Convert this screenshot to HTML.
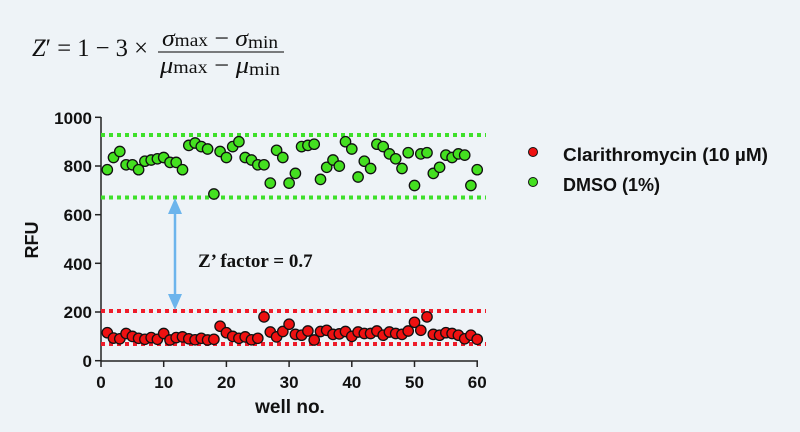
<!DOCTYPE html>
<html><head><meta charset="utf-8"><style>
html,body{margin:0;padding:0;background:#eef3f7;}
svg{display:block;}
</style></head><body>
<svg width="800" height="432" xmlns="http://www.w3.org/2000/svg" font-family="Liberation Sans, sans-serif">
<defs>
<marker id="mr" markerUnits="userSpaceOnUse" markerWidth="14" markerHeight="14" refX="7" refY="7" overflow="visible"><circle cx="7" cy="7" r="5.2" fill="#ee1111" stroke="#111" stroke-width="1.3"/></marker>
<marker id="mg" markerUnits="userSpaceOnUse" markerWidth="14" markerHeight="14" refX="7" refY="7" overflow="visible"><circle cx="7" cy="7" r="5.2" fill="#44e020" stroke="#111" stroke-width="1.3"/></marker>
</defs>
<rect width="800" height="432" fill="#eef3f7"/>
<g font-family="Liberation Serif, serif" fill="#111">
<text x="32" y="56" font-size="25" textLength="116" lengthAdjust="spacingAndGlyphs"><tspan font-style="italic">Z</tspan>′ = 1 − 3 ×</text>
<text x="162" y="46" font-size="24" textLength="116" lengthAdjust="spacingAndGlyphs"><tspan font-style="italic">σ</tspan><tspan font-size="18">max</tspan> − <tspan font-style="italic">σ</tspan><tspan font-size="18" dy="2">min</tspan></text>
<line x1="158" y1="52" x2="284" y2="52" stroke="#333" stroke-width="1.3"/>
<text x="160" y="73" font-size="24" textLength="120" lengthAdjust="spacingAndGlyphs"><tspan font-style="italic">μ</tspan><tspan font-size="18">max</tspan> − <tspan font-style="italic">μ</tspan><tspan font-size="18" dy="2">min</tspan></text>
</g>
<g stroke="#222" stroke-width="1.5" fill="none">
<line x1="101" y1="117" x2="101" y2="361"/>
<line x1="101" y1="361" x2="478" y2="361"/>
<line x1="95" y1="117.3" x2="101" y2="117.3"/>
<line x1="95" y1="166" x2="101" y2="166"/>
<line x1="95" y1="214.7" x2="101" y2="214.7"/>
<line x1="95" y1="263.3" x2="101" y2="263.3"/>
<line x1="95" y1="312" x2="101" y2="312"/>
<line x1="95" y1="360.7" x2="101" y2="360.7"/>
<line x1="101" y1="361" x2="101" y2="367"/>
<line x1="163.7" y1="361" x2="163.7" y2="367"/>
<line x1="226.4" y1="361" x2="226.4" y2="367"/>
<line x1="289.1" y1="361" x2="289.1" y2="367"/>
<line x1="351.8" y1="361" x2="351.8" y2="367"/>
<line x1="414.5" y1="361" x2="414.5" y2="367"/>
<line x1="477.2" y1="361" x2="477.2" y2="367"/>
</g>
<g font-size="17" font-weight="bold" fill="#111" text-anchor="end">
<text x="92" y="124">1000</text><text x="92" y="172">800</text><text x="92" y="221">600</text>
<text x="92" y="270">400</text><text x="92" y="318">200</text><text x="92" y="367">0</text>
</g>
<g font-size="17" font-weight="bold" fill="#111" text-anchor="middle">
<text x="101" y="388">0</text><text x="163.7" y="388">10</text><text x="226.4" y="388">20</text>
<text x="289.1" y="388">30</text><text x="351.8" y="388">40</text><text x="414.5" y="388">50</text><text x="477.2" y="388">60</text>
</g>
<text x="290" y="413" font-size="19" font-weight="bold" text-anchor="middle" fill="#111">well no.</text>
<text transform="translate(38,240) rotate(-90)" font-size="18" font-weight="bold" text-anchor="middle" fill="#111">RFU</text>
<g stroke-width="4" stroke-dasharray="4,4" fill="none">
<line x1="101" y1="135" x2="486" y2="135" stroke="#3ee02a"/>
<line x1="101" y1="197.5" x2="486" y2="197.5" stroke="#3ee02a"/>
<line x1="101" y1="311" x2="486" y2="311" stroke="#ee1c2a"/>
<line x1="101" y1="344" x2="486" y2="344" stroke="#ee1c2a"/>
</g>
<line x1="175" y1="212" x2="175" y2="296" stroke="#6cb4ec" stroke-width="2.5"/>
<polygon points="175,198 168,214 182,214" fill="#6cb4ec"/>
<polygon points="175,310 168,294 182,294" fill="#6cb4ec"/>
<text x="198" y="267" font-family="Liberation Serif, serif" font-size="19" font-weight="bold" fill="#111">Z’ factor = 0.7</text>
<polyline fill="none" stroke="none" marker-start="url(#mr)" marker-mid="url(#mr)" marker-end="url(#mr)" points="107.3,332.7 113.5,338.1 119.8,338.8 126.1,333.5 132.4,336.4 138.6,338.3 144.9,339.3 151.2,337.6 157.4,339.3 163.7,333.5 170,340 176.2,337.6 182.5,336.9 188.8,338.8 195.1,339.8 201.3,338.3 207.6,340 213.9,339.3 220.1,326.2 226.4,332.7 232.7,336.4 238.9,338.3 245.2,336.9 251.5,339.8 257.8,338.3 264,316.9 270.3,332 276.6,336.9 282.8,331.5 289.1,324.2 295.4,334.4 301.6,335.2 307.9,331 314.2,340 320.5,331.5 326.7,330.3 333,334.4 339.3,333.9 345.5,331.5 351.8,336.4 358.1,332 364.3,333.5 370.6,333.5 376.9,331 383.2,335.2 389.4,332 395.7,333.5 402,334.4 408.2,331 414.5,322.3 420.8,330.3 427,316.9 433.3,334.4 439.6,335.2 445.9,332.7 452.1,333.5 458.4,335.2 464.7,338.8 470.9,335.2 477.2,339.3"/>
<polyline fill="none" stroke="none" marker-start="url(#mg)" marker-mid="url(#mg)" marker-end="url(#mg)" points="107.3,169.7 113.5,157.5 119.8,151.5 126.1,164.8 132.4,164.8 138.6,169.7 144.9,161.2 151.2,160 157.4,158.8 163.7,157.5 170,162.4 176.2,162.4 182.5,169.7 188.8,145.4 195.1,143 201.3,146.6 207.6,149 213.9,194 220.1,151.5 226.4,157.5 232.7,146.6 238.9,141.7 245.2,157.5 251.5,160 257.8,164.8 264,164.8 270.3,183.1 276.6,150.3 282.8,157.5 289.1,183.1 295.4,173.4 301.6,146.6 307.9,145.4 314.2,144.2 320.5,179.4 326.7,167.3 333,160 339.3,166.1 345.5,141.7 351.8,149 358.1,177 364.3,161.2 370.6,168.5 376.9,144.2 383.2,146.6 389.4,153.9 395.7,158.8 402,168.5 408.2,152.7 414.5,185.5 420.8,153.9 427,152.7 433.3,173.4 439.6,167.3 445.9,155.1 452.1,157.5 458.4,153.9 464.7,155.1 470.9,185.5 477.2,169.7"/>
<circle cx="533" cy="152" r="4.5" fill="#ee1111" stroke="#111" stroke-width="1"/>
<circle cx="533" cy="182" r="4.5" fill="#44e020" stroke="#111" stroke-width="1"/>
<g font-size="18" font-weight="bold" fill="#111">
<text x="563" y="161" textLength="205" lengthAdjust="spacingAndGlyphs">Clarithromycin (10 µM)</text>
<text x="563" y="191">DMSO (1%)</text>
</g>
</svg>
</body></html>
